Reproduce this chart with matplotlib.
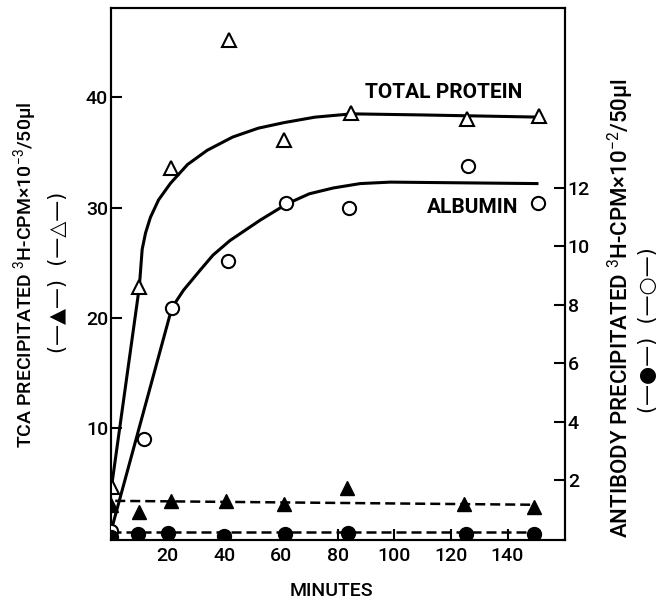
import matplotlib
matplotlib.use("Agg")
import matplotlib.pyplot as plt

t_open_tri = [0.2, 10, 21.3, 41.8, 61.2, 84.8, 125.6, 151]
t_fill_tri = [0, 10, 21.3, 40.7, 61.2, 83.4, 124.7, 149.4]
t_open_circ = [0, 11.5, 21.7, 41.4, 61.9, 84.1, 126, 150.8]
t_fill_circ = [0, 9.7, 20.3, 40, 61.6, 83.8, 125.4, 149.4]

# TCA precipitated 3H-CPM x10^-3 / 50ul (left axis)
tca_total = [4.7, 22.8, 33.6, 45.2, 36.1, 38.6, 38.0, 38.3]
tca_fill = [3.0, 2.35, 3.4, 3.4, 3.1, 4.6, 3.1, 2.8]

# antibody precipitated 3H-CPM x10^-2 / 50ul (right axis)
ab_albumin = [0.25, 3.4, 7.9, 9.5, 11.5, 11.3, 12.75, 11.5]
ab_fill = [0.05, 0.17, 0.2, 0.1, 0.17, 0.2, 0.17, 0.17]

# hand drawn curves
curve_total_t = [0.2, 10, 11, 12.2, 13.9, 16.8, 21, 27, 34, 43, 52, 61, 72, 85, 110, 152]
curve_total_y = [4.7, 22.8, 26.2, 27.7, 29.1, 30.7, 32.2, 33.9, 35.2, 36.4, 37.2, 37.7, 38.2, 38.5, 38.4, 38.2]
curve_alb_t = [0, 21.5, 25.6, 31.6, 36, 42, 52.7, 62, 70, 78.5, 88, 98.6, 150.4]
curve_alb_y = [0.25, 7.9, 8.5, 9.2, 9.7, 10.2, 10.9, 11.45, 11.8, 12.0, 12.15, 12.2, 12.15]

# dashed lines
dash_tri_t = [1.5, 148]
dash_tri_y = [3.4, 3.05]
dash_circ_t = [0, 150]
dash_circ_y = [0.22, 0.22]

xticks = [20, 40, 60, 80, 100, 120, 140]
left_ticks = [10, 20, 30, 40]
right_ticks = [2, 4, 6, 8, 10, 12]

plt.rcParams['font.family'] = ['Roboto', 'DejaVu Sans']
plt.rcParams['mathtext.fontset'] = 'custom'
plt.rcParams['mathtext.rm'] = 'Roboto'
plt.rcParams['mathtext.it'] = 'Roboto'
plt.rcParams['mathtext.default'] = 'rm'

fig = plt.figure(figsize=(6.58, 6.02), dpi=100)
ax = fig.add_axes([111/658, 62/602, 454/658, 532/602])
ax2 = ax.twinx()

lw_sp = 1.5
for a in (ax, ax2):
    for s in a.spines.values():
        s.set_linewidth(lw_sp)

# left axis
ax.plot(curve_total_t, curve_total_y, color='black', lw=2.2, solid_joinstyle='round', zorder=2)
ax.plot(dash_tri_t, dash_tri_y, color='black', lw=1.8, dashes=(4, 2), zorder=2)
ax.plot(t_open_tri, tca_total, linestyle='none', marker='^', ms=10, mfc='white',
        mec='black', mew=1.5, zorder=3)
ax.plot(t_fill_tri, tca_fill, linestyle='none', marker='^', ms=10, mfc='black',
        mec='black', zorder=3)

# right axis
ax2.plot(curve_alb_t, curve_alb_y, color='black', lw=2.2, solid_joinstyle='round', zorder=2)
ax2.plot(dash_circ_t, dash_circ_y, color='black', lw=1.8, dashes=(4, 2), zorder=2)
ax2.plot(t_open_circ, ab_albumin, linestyle='none', marker='o', ms=9.5, mfc='white',
         mec='black', mew=1.5, zorder=3)
ax2.plot(t_fill_circ, ab_fill, linestyle='none', marker='o', ms=10, mfc='black',
         mec='black', zorder=3)

ax.set_xlim(0, 160.3)
ax.set_ylim(-0.15, 48.1)
ax2.set_ylim(-0.05, 18.16)

ax.set_xticks(xticks)
ax.set_yticks(left_ticks)
ax2.set_yticks(right_ticks)
ax.tick_params(axis='both', direction='in', length=8, width=lw_sp, labelsize=14)
ax.tick_params(axis='x', pad=5)
ax.tick_params(axis='y', pad=2)
ax2.tick_params(axis='y', direction='in', length=8, width=lw_sp, labelsize=14, pad=2)
for lab in ax.get_xticklabels() + ax.get_yticklabels() + ax2.get_yticklabels():
    lab.set_fontweight('medium')

ax.text(145.1, 39.9, 'TOTAL PROTEIN', ha='right', va='baseline', fontsize=15, fontweight='bold')
ax.text(143.7, 29.5, 'ALBUMIN', ha='right', va='baseline', fontsize=15, fontweight='bold')

fig.text(331/658, 1 - 591/602, 'MINUTES', ha='center', va='center', fontsize=14,
         fontweight='medium')

fig.text(25/658, 1 - 275/602, 'TCA PRECIPITATED $^{3}$H-CPM×10$^{-3}$/50µl',
         rotation=90, ha='center', va='center', fontsize=14, fontweight='medium')
fig.text(58/658, 1 - 272/602, '(\u2014\u25b2\u2014)  (\u2014\u25b3\u2014)',
         rotation=90, ha='center', va='center', fontsize=15, family='DejaVu Sans')
fig.text(621/658, 1 - 308/602, 'ANTIBODY PRECIPITATED $^{3}$H-CPM×10$^{-2}$/50µl',
         rotation=90, ha='center', va='center', fontsize=16, fontweight='medium')
fig.text(648/658, 1 - 330/602, '(\u2014\u25cf\u2014)  (\u2014\u25cb\u2014)',
         rotation=90, ha='center', va='center', fontsize=15, family='DejaVu Sans')

fig.savefig('out.png', dpi=100)
